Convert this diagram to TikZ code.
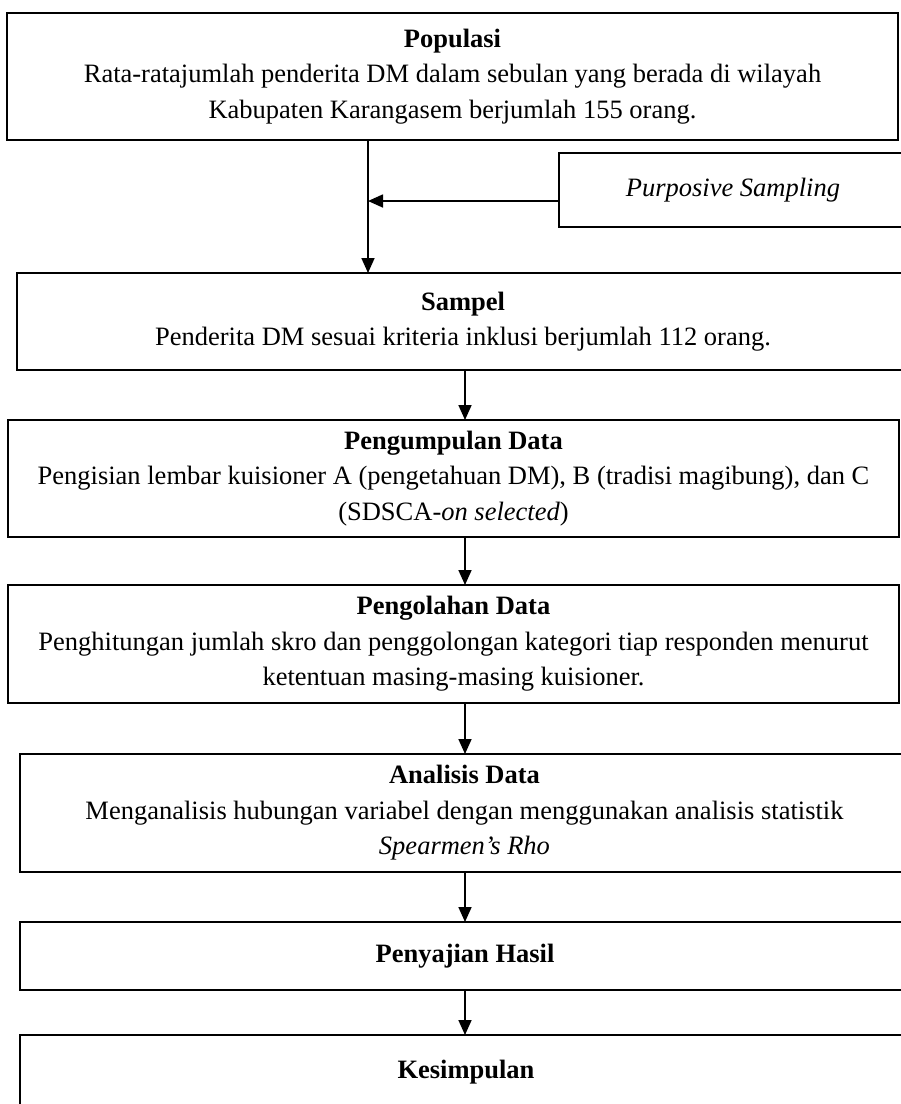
\documentclass[tikz,border=0pt]{standalone}
\usepackage{fontspec}
\setmainfont{Liberation Serif}
\usetikzlibrary{arrows.meta}
\tikzset{
  box/.style={draw, line width=2.6pt, inner sep=0pt, outer sep=0pt, align=center,
    font=\fontsize{26.5}{35.5}\selectfont},
  conn/.style={draw, line width=1.7pt, -{Triangle[length=15pt,width=13pt]}}
}
\begin{document}
\begin{tikzpicture}[x=1pt,y=-1pt]
\useasboundingbox (0,0) rectangle (901,1104);
\clip (0,0) rectangle (901,1104);
\coordinate (jx) at (368,0);
\coordinate (mx) at (465,0);
\node[box, minimum width=891pt, minimum height=127pt] (pop) at (452.5,76.5)
  {\textbf{Populasi}\\Rata-ratajumlah penderita DM dalam sebulan yang berada di wilayah\\Kabupaten Karangasem berjumlah 155 orang.};
\node[box, minimum width=348pt, minimum height=74pt] (purp) at (733,190)
  {\textit{Purposive Sampling}};
\node[box, minimum width=892pt, minimum height=97pt] (samp) at (463,321.5)
  {\textbf{Sampel}\\Penderita DM sesuai kriteria inklusi berjumlah 112 orang.};
\node[box, minimum width=891pt, minimum height=117pt] (kump) at (453.5,478.5)
  {\textbf{Pengumpulan Data}\\Pengisian lembar kuisioner A (pengetahuan DM), B (tradisi magibung), dan C\\(SDSCA-\textit{on selected})};
\node[box, minimum width=891pt, minimum height=118pt] (olah) at (453.5,644)
  {\textbf{Pengolahan Data}\\Penghitungan jumlah skro dan penggolongan kategori tiap responden menurut\\ketentuan masing-masing kuisioner.};
\node[box, minimum width=889pt, minimum height=118pt] (anal) at (464.5,813)
  {\textbf{Analisis Data}\\Menganalisis hubungan variabel dengan menggunakan analisis statistik\\\textit{Spearmen’s Rho}};
\node[box, minimum width=890pt, minimum height=68pt] (saji) at (465,956)
  {\textbf{Penyajian Hasil}};
\node[box, minimum width=892pt, minimum height=75pt] (kes) at (466,1072.5)
  {\textbf{Kesimpulan}};
\draw[conn] (pop.south -| jx) -- (samp.north -| jx);
\draw[conn] ([yshift=-11pt]purp.west) -- ([yshift=-11pt]purp.west -| jx);
\draw[conn] (samp.south -| mx) -- (kump.north -| mx);
\draw[conn] (kump.south -| mx) -- (olah.north -| mx);
\draw[conn] (olah.south -| mx) -- (anal.north -| mx);
\draw[conn] (anal.south -| mx) -- (saji.north -| mx);
\draw[conn] (saji.south -| mx) -- (kes.north -| mx);
\end{tikzpicture}
\end{document}
